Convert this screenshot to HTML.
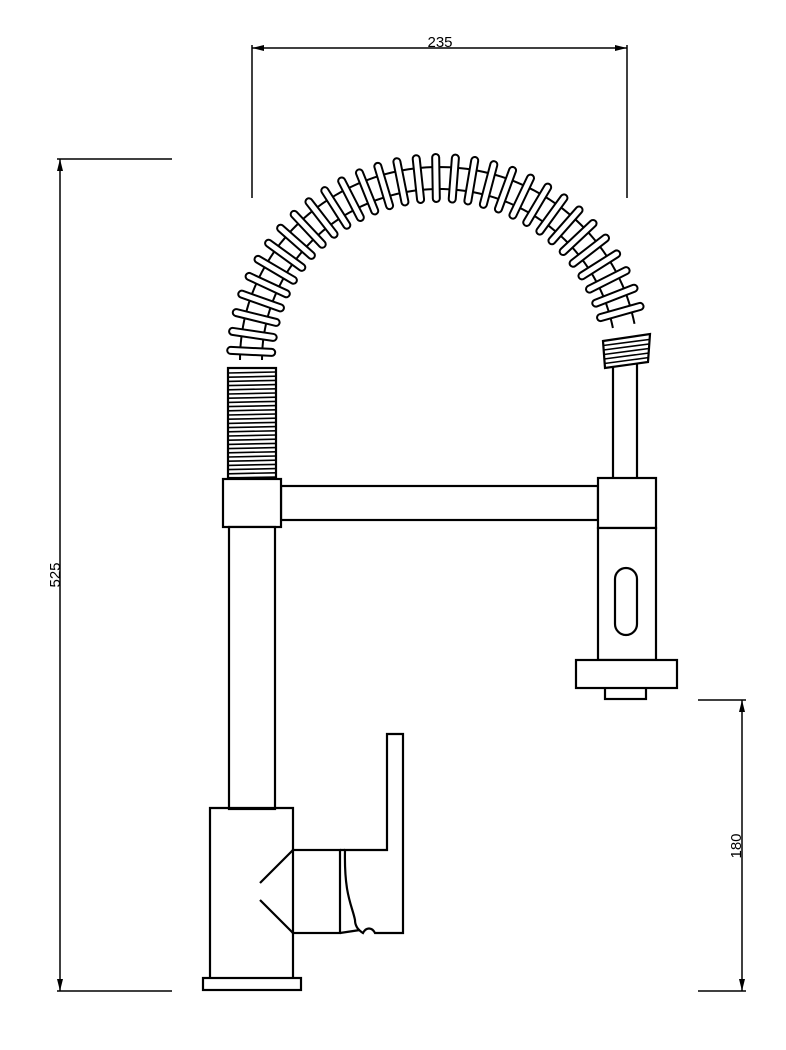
<!DOCTYPE html>
<html><head><meta charset="utf-8"><style>html,body{margin:0;padding:0;background:#fff}svg{display:block}</style></head>
<body>
<svg id="s" width="786" height="1050" viewBox="0 0 786 1050" xmlns="http://www.w3.org/2000/svg" font-family="Liberation Sans, sans-serif">
<defs><marker id="a" markerWidth="12" markerHeight="6" refX="12" refY="3" orient="auto-start-reverse" markerUnits="userSpaceOnUse"><path d="M0,0 L12,3 L0,6z" fill="#000"/></marker></defs>
<g stroke="#000" stroke-width="1.5" fill="none">
<line x1="252" y1="45" x2="252" y2="198"/><line x1="627" y1="45" x2="627" y2="198"/>
<line x1="252" y1="48" x2="627" y2="48" marker-start="url(#a)" marker-end="url(#a)"/>
<line x1="57" y1="159" x2="172" y2="159"/><line x1="57" y1="991" x2="172" y2="991"/>
<line x1="60" y1="159" x2="60" y2="991" marker-start="url(#a)" marker-end="url(#a)"/>
<line x1="698" y1="700" x2="746" y2="700"/><line x1="698" y1="991" x2="746" y2="991"/>
<line x1="742" y1="700" x2="742" y2="991" marker-start="url(#a)" marker-end="url(#a)"/>
</g>
<text x="440" y="47" font-size="15" text-anchor="middle">235</text>
<text transform="translate(60,575) rotate(-90)" font-size="15" text-anchor="middle">525</text>
<text transform="translate(741,846) rotate(-90)" font-size="15" text-anchor="middle">180</text>
<g id="dr" stroke="#000" stroke-width="2.2" fill="#fff" stroke-linejoin="miter">
<g id="spring"></g>
<rect x="228" y="368" width="48" height="110"/>
<g id="thr"></g>
<rect x="613" y="363" width="24" height="116"/>
<path d="M603,341 L650,334 L648,362 L605,368 Z"/>
<g id="thr2"></g>
<rect x="281" y="486" width="317" height="34"/>
<rect x="223" y="479" width="58" height="48"/>
<rect x="598" y="478" width="58" height="50"/>
<rect x="598" y="528" width="58" height="132"/>
<rect x="615" y="568" width="22" height="67" rx="11"/>
<rect x="605" y="687" width="41" height="12"/>
<rect x="576" y="660" width="101" height="28"/>
<rect x="229" y="527" width="46" height="282"/>
<path d="M210,978 L210,808 L293,808 L293,850 M293,933 L293,978" fill="none"/>
<path d="M293,850 L260,883 M260,900 L293,933" fill="none"/>
<rect x="293" y="850" width="47" height="83"/>
<path d="M345,850 L387,850 L387,734 L403,734 L403,933 L375,933 C372,927 366,927 363,933 C358,930 355,926 355,920 C352,905 344,895 345,850 Z"/>
<path d="M340,850 L345,850 M340,933 L360,930" fill="none"/>
<rect x="203" y="978" width="98" height="12"/>
</g>
</svg>
<script>
var NS="http://www.w3.org/2000/svg";
function el(p,t,a){var e=document.createElementNS(NS,t);for(var k in a)e.setAttribute(k,a[k]);p.appendChild(e);return e;}
var sp=document.getElementById("spring");
var cx=439,cy=360,rx=188,ry=182;
function pt(d,ang){return [cx+(rx+d)*Math.cos(ang), cy-(ry+d)*Math.sin(ang)];}
function arc(d){var s="";for(var i=0;i<=100;i++){var ang=Math.PI*(1.0-i*0.94/100);var p=pt(d,ang);s+=(i?"L":"M")+p[0].toFixed(1)+","+p[1].toFixed(1);}return s;}
el(sp,"path",{d:arc(-11),fill:"none","stroke-width":"2"});
el(sp,"path",{d:arc(11),fill:"none","stroke-width":"2"});
var n=31;
for(var i=0;i<n;i++){
 var ang=Math.PI*(0.985-i*(0.90/(n-1)));
 var c=pt(0,ang);
 // normal direction of ellipse
 var nx=Math.cos(ang)/rx, ny=Math.sin(ang)/ry;
 var deg=-Math.atan2(ny,nx)*180/Math.PI;
 el(sp,"rect",{x:-24,y:-3.5,width:48,height:7,rx:3.5,transform:"translate("+c[0].toFixed(1)+","+c[1].toFixed(1)+") rotate("+deg.toFixed(1)+")","stroke-width":"2"});
}
var th=document.getElementById("thr");
for(var y=373;y<478;y+=4.2) el(th,"line",{x1:228,y1:y,x2:276,y2:y-1,"stroke-width":"1.6"});
var t2=document.getElementById("thr2");
for(var k=1;k<6;k++){var yy=341+k*4.5;el(t2,"line",{x1:603+k*0.3,y1:yy,x2:649,y2:yy-6,"stroke-width":"1.6"});}
</script>
</body></html>
